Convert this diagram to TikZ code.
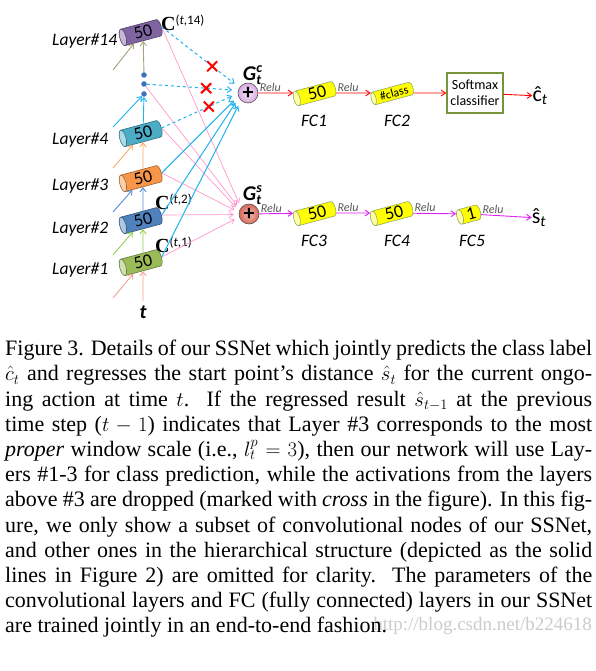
\documentclass[tikz,border=0pt]{standalone}
\usepackage{fontspec}
\setmainfont{Liberation Serif}
\newfontfamily\carlito{Carlito}
\usetikzlibrary{positioning, calc, arrows.meta, shapes.geometric, shapes.misc}
\definecolor{Purple}{HTML}{8064A2}
\definecolor{Teal}{HTML}{4BACC6}
\definecolor{Orange}{HTML}{F79646}
\definecolor{Blue}{HTML}{4F81BD}
\definecolor{Green}{HTML}{9BBB59}
\definecolor{Yellow}{HTML}{FFFF00}
\definecolor{Olive}{HTML}{77933C}
\definecolor{Cyan}{HTML}{1FB4F0}
\definecolor{Pink}{HTML}{FF99CC}
\definecolor{Salmon}{HTML}{F4A394}
\definecolor{LeafGreen}{HTML}{92D050}
\definecolor{Cornflower}{HTML}{558ED5}
\definecolor{Peach}{HTML}{F9AB6B}
\definecolor{Khaki}{HTML}{A8A07A}
\definecolor{Violet}{HTML}{E020F0}
\definecolor{DotBlue}{HTML}{3F6FBF}
\definecolor{GcIn}{HTML}{F8ECFA}
\definecolor{GcOut}{HTML}{D8A8E0}
\definecolor{GsIn}{HTML}{F8C0B4}
\definecolor{GsOut}{HTML}{D8665A}
\tikzset{
    convnode/.style={cylinder, shape border rotate=180, rotate=15, shape aspect=0.45,
        draw=#1!65!black, line width=0.6pt, cylinder uses custom fill,
        cylinder body fill=#1, cylinder end fill=#1!45!white,
        minimum height=43pt, minimum width=17pt, inner sep=1pt,
        font=\carlito\fontsize{18}{18}\selectfont},
    fcnode/.style={convnode=Yellow, draw=Olive!80, cylinder end fill=Yellow!35!white, minimum width=15pt},
    dotnode/.style={circle, fill=DotBlue, minimum size=5.5pt, inner sep=0pt},
    sumnode/.style={circle, draw=black!65, line width=0.6pt, minimum size=20pt, inner sep=0pt,
        font=\carlito\bfseries\fontsize{22}{22}\selectfont},
    softbox/.style={rectangle, draw=Olive, line width=1.3pt, fill=white, align=center,
        minimum width=56pt, minimum height=40pt, inner sep=1pt, font=\carlito\fontsize{14}{16}\selectfont},
    layerlabel/.style={anchor=west, inner sep=0pt, font=\carlito\itshape\fontsize{17.5}{17.5}\selectfont},
    fclabel/.style={inner sep=0pt, font=\carlito\itshape\fontsize{17.5}{17.5}\selectfont},
    clabel/.style={anchor=west, inner sep=0pt, font=\fontsize{20}{20}\selectfont\bfseries},
    glabel/.style={inner sep=0pt, font=\carlito\bfseries\itshape\fontsize{21}{21}\selectfont},
    outlabel/.style={inner sep=0pt, font=\carlito\fontsize{22}{22}\selectfont},
    relu/.style={pos=0, anchor=south west, inner sep=1pt, text=black!65, font=\carlito\itshape\fontsize{12}{12}\selectfont},
    inarrow/.style={-{Straight Barb[length=4pt, width=6pt]}, line width=0.9pt},
    cyanarrow/.style={-{Straight Barb[length=4pt, width=6pt]}, Cyan, line width=1pt, shorten >=6pt},
    pinkarrow/.style={-{Straight Barb[length=4pt, width=6pt]}, Pink, line width=0.7pt, shorten >=5pt},
    redarrow/.style={-{Straight Barb[length=4.5pt, width=6pt]}, red, line width=0.9pt},
    violetarrow/.style={-{Straight Barb[length=4.5pt, width=6pt]}, Violet, line width=0.9pt},
    crossmark/.style={cross out, draw=red, line width=2pt, minimum size=8pt, inner sep=0pt},
}
\begin{document}
\begin{tikzpicture}[x=1pt, y=-1pt]
    \useasboundingbox[fill=white] (0,0) rectangle (596,671);

    % convolutional nodes
    \node[convnode=Green] (L1) at (143,262) {50};
    \node[convnode=Blue] (L2) at (143,220) {50};
    \node[convnode=Orange] (L3) at (143,178) {50};
    \node[convnode=Teal] (L4) at (143,133) {50};
    \node[dotnode] (d3) at (144,94) {};
    \node[dotnode] (d2) at (144,84) {};
    \node[dotnode] (d1) at (144,75) {};
    \node[convnode=Purple] (L14) at (143,32) {50};

    \node[layerlabel] at (52,41) {Layer\#14};
    \node[layerlabel] at (52,140) {Layer\#4};
    \node[layerlabel] at (52,186) {Layer\#3};
    \node[layerlabel] at (52,229) {Layer\#2};
    \node[layerlabel] at (52,270) {Layer\#1};

    \node[clabel] at (161,23) {C\raisebox{6pt}{\carlito\mdseries\fontsize{13}{13}\selectfont(\textit{t},14)}};
    \node[clabel] at (155,202) {C\raisebox{6pt}{\carlito\mdseries\fontsize{13}{13}\selectfont(\textit{t},2)}};
    \node[clabel] at (155,245) {C\raisebox{6pt}{\carlito\mdseries\fontsize{13}{13}\selectfont(\textit{t},1)}};

    % inputs
    \node[inner sep=0pt, font=\carlito\bfseries\itshape\fontsize{20}{20}\selectfont] (t) at (143,312) {t};
    \coordinate (a1) at (113,298);
    \coordinate (a2) at (113,255);
    \coordinate (a3) at (113,212);
    \coordinate (a4) at (113,168);
    \coordinate (a5) at (113,127);
    \coordinate (a6) at (113,70);
    \draw[inarrow, Salmon, shorten <=4pt] (t) -- (L1);
    \draw[inarrow, Salmon] (a1) -- (L1);
    \draw[inarrow, LeafGreen] (L1) -- (L2);
    \draw[inarrow, LeafGreen] (a2) -- (L2);
    \draw[inarrow, Cornflower] (L2) -- (L3);
    \draw[inarrow, Cornflower] (a3) -- (L3);
    \draw[inarrow, Peach] (L3) -- (L4);
    \draw[inarrow, Peach] (a4) -- (L4);
    \draw[inarrow, Cyan] (L4) -- (d3);
    \draw[inarrow, Cyan] (a5) -- (d3);
    \draw[inarrow, Khaki] (d1) -- (L14);
    \draw[inarrow, Khaki] (a6) -- (L14);

    % sum nodes
    \node[sumnode, inner color=GcIn, outer color=GcOut] (Gc) at (248,93) {+};
    \node[sumnode, inner color=GsIn, outer color=GsOut] (Gs) at (249,214) {+};
    \node[glabel] at (252,75) {G\makebox[0pt][l]{\raisebox{8pt}{\fontsize{14}{14}\selectfont c}}\raisebox{-4pt}{\fontsize{14}{14}\selectfont t}};
    \node[glabel] at (252,195) {G\makebox[0pt][l]{\raisebox{8pt}{\fontsize{14}{14}\selectfont s}}\raisebox{-4pt}{\fontsize{14}{14}\selectfont t}};

    % links to the two branches
    \draw[pinkarrow] (L14.east) -- (Gs.142);
    \draw[pinkarrow] (d2) -- (Gs.153);
    \draw[pinkarrow] (L4.east) -- (Gs.162);
    \draw[pinkarrow] (L3.east) -- (Gs.170);
    \draw[pinkarrow] (L2.east) -- (Gs.183);
    \draw[pinkarrow] (L1.east) -- (Gs.197);
    \draw[cyanarrow, dashed] (L14.east) -- (Gc.147);
    \draw[cyanarrow, dashed] (d2) -- (Gc.165);
    \draw[cyanarrow, dashed] (L4.east) -- (Gc.183);
    \draw[cyanarrow] (L3.east) -- (Gc.199);
    \draw[cyanarrow] (L2.east) -- (Gc.208);
    \draw[cyanarrow] (L1.east) -- (Gc.227);
    % dropped layers
    \path (L14.east) -- (Gc.147) node[crossmark, pos=0.65] {};
    \path (d2) -- (Gc.165) node[crossmark, pos=0.65] {};
    \path (L4.east) -- (Gc.183) node[crossmark, pos=0.62] {};

    % class branch
    \node[fcnode] (FC1) at (317,93) {50};
    \node[fcnode, minimum width=13pt, font=\carlito\fontsize{12}{12}\selectfont] (FC2) at (394,93) {\#class};
    \node[softbox] (soft) at (475,93) {Softmax\\classifier};
    \node[outlabel] (ct) at (540,96) {ĉ\textsubscript{\itshape t}};
    \node[fclabel] at (314,121) {FC1};
    \node[fclabel] at (397,121) {FC2};
    \draw[redarrow] (Gc) -- (FC1) node[relu] {Relu};
    \draw[redarrow] (FC1) -- (FC2) node[relu] {Relu};
    \draw[redarrow] (FC2) -- (soft);
    \draw[redarrow] (soft) -- (ct);

    % start point branch
    \node[fcnode] (FC3) at (317,213) {50};
    \node[fcnode] (FC4) at (394,213) {50};
    \node[fcnode, minimum height=24pt] (FC5) at (471,214) {1};
    \node[outlabel] (st) at (539,218) {ŝ\textsubscript{\itshape t}};
    \node[fclabel] at (314,241) {FC3};
    \node[fclabel] at (397,241) {FC4};
    \node[fclabel] at (472,241) {FC5};
    \draw[violetarrow] (Gs) -- (FC3) node[relu] {Relu};
    \draw[violetarrow] (FC3) -- (FC4) node[relu] {Relu};
    \draw[violetarrow] (FC4) -- (FC5) node[relu] {Relu};
    \draw[violetarrow] (FC5) -- (st) node[relu] {Relu};

    % caption
    \node[anchor=east, inner sep=0pt, text=black!20, font=\fontsize{19}{19}\selectfont] at (592,626) {http://blog.csdn.net/b224618};
    \node[anchor=north west, inner sep=0pt, align=left, font=\fontsize{22}{25.2}\selectfont] (caption) at (5,340) {%
        \makebox[587pt][s]{Figure 3. Details of our SSNet which jointly predicts the class label}\\
        \makebox[587pt][s]{$\hat{c}_t$ and regresses the start point's distance $\hat{s}_t$ for the current ongo-}\\
        \makebox[587pt][s]{ing action at time $t$.\ \ If the regressed result $\hat{s}_{t-1}$ at the previous}\\
        \makebox[587pt][s]{time step ($t-1$) indicates that Layer \#3 corresponds to the most}\\
        \makebox[587pt][s]{\textit{proper} window scale (i.e., $l_t^p=3$), then our network will use Lay-}\\
        \makebox[587pt][s]{ers \#1-3 for class prediction, while the activations from the layers}\\
        \makebox[587pt][s]{above \#3 are dropped (marked with \textit{cross} in the figure). In this fig-}\\
        \makebox[587pt][s]{ure, we only show a subset of convolutional nodes of our SSNet,}\\
        \makebox[587pt][s]{and other ones in the hierarchical structure (depicted as the solid}\\
        \makebox[587pt][s]{lines in Figure 2) are omitted for clarity.\ \ The parameters of the}\\
        \makebox[587pt][s]{convolutional layers and FC (fully connected) layers in our SSNet}\\
        are trained jointly in an end-to-end fashion.};
\end{tikzpicture}
\end{document}
